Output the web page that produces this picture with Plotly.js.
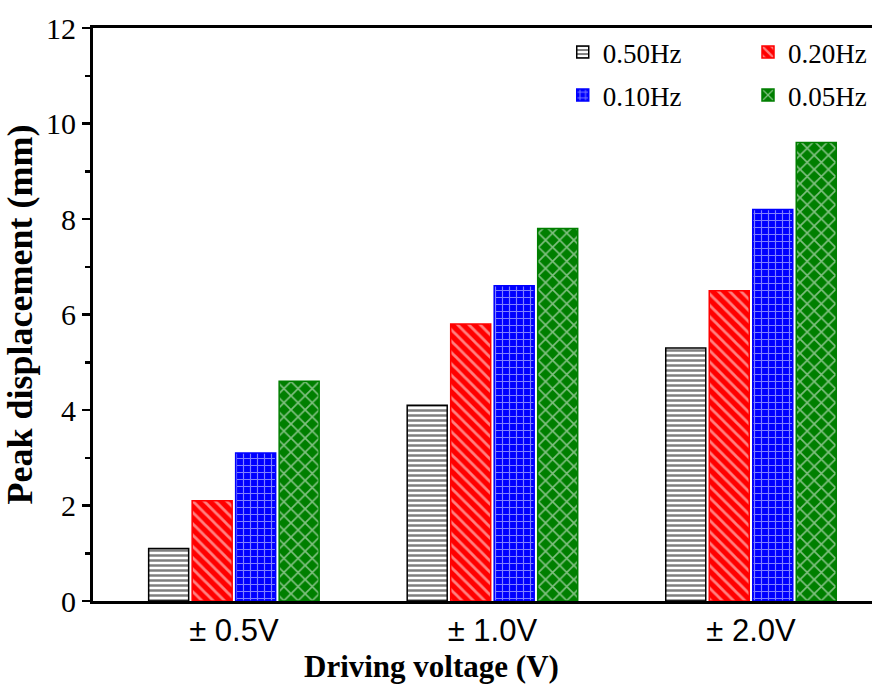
<!DOCTYPE html>
<html>
<head>
<meta charset="utf-8">
<script src="https://cdn.plot.ly/plotly-3.0.1.min.js"></script>
<style>html,body{margin:0;padding:0;background:#fff;}#chart{width:872px;height:686px;}</style>
</head>
<body>
<div id="chart"></div>
<script>
const categories = ["± 0.5V", "± 1.0V", "± 2.0V"];
const seriesNames = ["0.50Hz", "0.20Hz", "0.10Hz", "0.05Hz"];
const v050 = [1.1, 4.1, 5.3];
const v020 = [2.1, 5.8, 6.5];
const v010 = [3.1, 6.6, 8.2];
const v005 = [4.6, 7.8, 9.6];
const yTicks = [0, 2, 4, 6, 8, 10, 12];

const values = [v050, v020, v010, v005];
const legendIds = ["legend", "legend2", "legend3", "legend4"];
const styles = [
  {line: "#000000", bg: "#ffffff", fg: "#000000", shape: "-", size: 5, solidity: 0.5},
  {line: "#ff0000", bg: "#ff0000", fg: "#ffffff", shape: "\\", size: 8, solidity: 0.35},
  {line: "#0000ff", bg: "#0000ff", fg: "#ffffff", shape: "+", size: 7, solidity: 0.3},
  {line: "#007f00", bg: "#007f00", fg: "#ffffff", shape: "x", size: 10, solidity: 0.3}
];

const traces = values.map((v, i) => ({
  type: "bar",
  name: seriesNames[i],
  legend: legendIds[i],
  x: [0, 1, 2],
  y: v,
  marker: {
    color: styles[i].bg,
    line: {color: styles[i].line, width: 1.5},
    pattern: {shape: styles[i].shape, bgcolor: styles[i].bg, fgcolor: styles[i].fg,
              size: styles[i].size, solidity: styles[i].solidity, fillmode: "overlay"}
  },
  hoverinfo: "skip"
}));

const serif = "Liberation Serif, Times New Roman, serif";
const legendCommon = {
  orientation: "h", yanchor: "top",
  font: {family: serif, size: 27, color: "#000"},
  bgcolor: "rgba(0,0,0,0)"
};

const layout = {
  width: 872, height: 686,
  margin: {l: 93, r: 0, t: 28, b: 85},
  paper_bgcolor: "#fff", plot_bgcolor: "#fff",
  barmode: "group", bargap: 0.327, bargroupgap: 0.08,
  showlegend: true,
  legend: Object.assign({}, legendCommon, {x: 0.603, xanchor: "left", y: 1.0}),
  legend2: Object.assign({}, legendCommon, {x: 1.0, xanchor: "right", y: 1.0}),
  legend3: Object.assign({}, legendCommon, {x: 0.603, xanchor: "left", y: 0.925}),
  legend4: Object.assign({}, legendCommon, {x: 1.0, xanchor: "right", y: 0.925}),
  xaxis: {
    range: [-0.545, 2.468],
    tickmode: "array", tickvals: [0, 1, 2], ticktext: categories,
    ticks: "", showgrid: false, zeroline: false,
    showline: true, linecolor: "#000", linewidth: 3, mirror: true,
    tickfont: {family: "Liberation Sans, Arial, sans-serif", size: 31, color: "#000"}
  },
  yaxis: {
    range: [0, 12],
    tickmode: "array", tickvals: yTicks,
    ticks: "outside", ticklen: 8, tickwidth: 2.5, tickcolor: "#000",
    minor: {dtick: 1, ticks: "outside", ticklen: 5, tickwidth: 2.5, tickcolor: "#000", showgrid: false},
    showgrid: false, zeroline: false,
    showline: true, linecolor: "#000", linewidth: 3, mirror: false,
    tickfont: {family: serif, size: 30, color: "#000"},
    title: {text: "<b>Peak displacement (mm)</b>", standoff: 6,
            font: {family: serif, size: 36, color: "#000"}}
  },
  annotations: [{
    text: "<b>Driving voltage (V)</b>", xref: "paper", yref: "paper",
    x: 0.435, y: -0.115, xanchor: "center", yanchor: "middle", showarrow: false,
    font: {family: serif, size: 31, color: "#000"}
  }]
};

Plotly.newPlot("chart", traces, layout, {displayModeBar: false, staticPlot: true});
</script>
</body>
</html>
